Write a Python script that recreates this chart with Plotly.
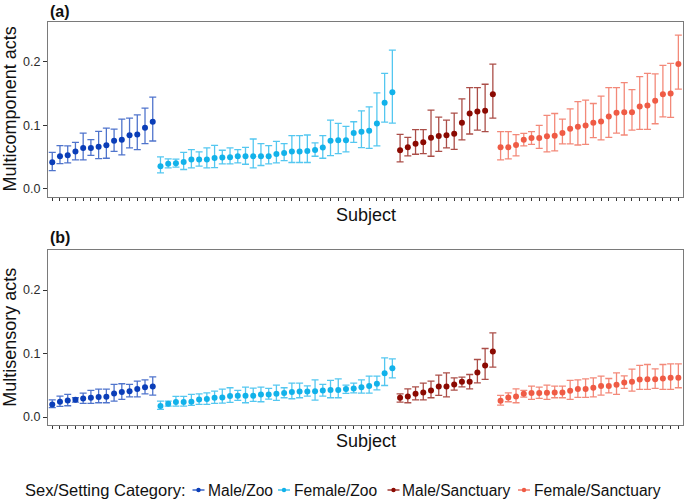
import plotly.graph_objects as go

categories = ["Male/Zoo", "Female/Zoo", "Male/Sanctuary", "Female/Sanctuary"]
colors = ["#0B3EB8", "#12B2EA", "#8B0A02", "#EF5B45"]
bar_colors = ["rgba(11,62,184,0.72)", "rgba(18,178,234,0.72)", "rgba(139,10,2,0.72)", "rgba(239,91,69,0.72)"]

# ---- Panel (a): Multicomponent acts (estimate, lower, upper) ----
a_mz = [0.0418, 0.0512, 0.0527, 0.0585, 0.0642, 0.0642, 0.0663, 0.0684, 0.0757, 0.0773, 0.0841, 0.0856, 0.0961, 0.1055]
a_mz_lo = [0.0287, 0.0397, 0.0407, 0.0454, 0.0454, 0.0527, 0.0475, 0.0480, 0.0590, 0.0533, 0.0642, 0.0616, 0.0710, 0.0752]
a_mz_hi = [0.0574, 0.0679, 0.0674, 0.0731, 0.0877, 0.0773, 0.0903, 0.0956, 0.0940, 0.1097, 0.1112, 0.1164, 0.1269, 0.1441]

a_fz = [0.0355, 0.0392, 0.0402, 0.0423, 0.0460, 0.0460, 0.0460, 0.0486, 0.0491, 0.0496, 0.0512, 0.0512, 0.0512, 0.0512,
        0.0512, 0.0548, 0.0564, 0.0585, 0.0585, 0.0595, 0.0611, 0.0648, 0.0757, 0.0762, 0.0762, 0.0877, 0.0898, 0.0914,
        0.1029, 0.1352, 0.1520]
a_fz_lo = [0.0251, 0.0329, 0.0339, 0.0303, 0.0329, 0.0355, 0.0329, 0.0334, 0.0392, 0.0392, 0.0407, 0.0386, 0.0329, 0.0366,
           0.0392, 0.0407, 0.0444, 0.0413, 0.0413, 0.0413, 0.0512, 0.0480, 0.0522, 0.0554, 0.0580, 0.0731, 0.0648, 0.0637,
           0.0674, 0.1050, 0.1034]
a_fz_hi = [0.0501, 0.0470, 0.0465, 0.0574, 0.0616, 0.0580, 0.0642, 0.0684, 0.0606, 0.0642, 0.0616, 0.0653, 0.0783, 0.0710,
           0.0679, 0.0747, 0.0710, 0.0836, 0.0836, 0.0846, 0.0721, 0.0836, 0.1081, 0.1029, 0.0982, 0.1055, 0.1227, 0.1290,
           0.1509, 0.1817, 0.2183]

a_ms = [0.0606, 0.0653, 0.0710, 0.0731, 0.0804, 0.0830, 0.0841, 0.0867, 0.1039, 0.1185, 0.1217, 0.1227, 0.1488]
a_ms_lo = [0.0423, 0.0517, 0.0543, 0.0554, 0.0512, 0.0590, 0.0642, 0.0621, 0.0768, 0.0862, 0.0924, 0.0898, 0.1112]
a_ms_hi = [0.0856, 0.0809, 0.0930, 0.0930, 0.1238, 0.1128, 0.1081, 0.1191, 0.1415, 0.1593, 0.1593, 0.1645, 0.1963]

a_fs = [0.0653, 0.0653, 0.0689, 0.0773, 0.0799, 0.0799, 0.0825, 0.0836, 0.0877, 0.0945, 0.0977, 0.0997, 0.1039, 0.1060,
        0.1138, 0.1196, 0.1206, 0.1206, 0.1295, 0.1311, 0.1384, 0.1488, 0.1499, 0.1963]
a_fs_lo = [0.0454, 0.0470, 0.0517, 0.0674, 0.0700, 0.0637, 0.0580, 0.0595, 0.0705, 0.0705, 0.0689, 0.0700, 0.0804, 0.0768,
           0.0809, 0.0877, 0.0846, 0.0924, 0.0935, 0.0935, 0.1023, 0.1133, 0.1123, 0.1567]
a_fs_hi = [0.0898, 0.0898, 0.0851, 0.0872, 0.0898, 0.0997, 0.1154, 0.1185, 0.1097, 0.1258, 0.1373, 0.1394, 0.1342, 0.1457,
           0.1593, 0.1593, 0.1671, 0.1561, 0.1765, 0.1817, 0.1807, 0.1943, 0.1974, 0.2418]

# ---- Panel (b): Multisensory acts ----
b_mz = [0.0199, 0.0241, 0.0262, 0.0272, 0.0293, 0.0304, 0.0314, 0.0319, 0.0372, 0.0393, 0.0408, 0.0440, 0.0471, 0.0482]
b_mz_lo = [0.0147, 0.0168, 0.0178, 0.0236, 0.0215, 0.0215, 0.0225, 0.0225, 0.0251, 0.0277, 0.0319, 0.0319, 0.0366, 0.0346]
b_mz_hi = [0.0272, 0.0330, 0.0356, 0.0304, 0.0377, 0.0419, 0.0440, 0.0440, 0.0513, 0.0524, 0.0513, 0.0565, 0.0586, 0.0634]

b_fz = [0.0173, 0.0209, 0.0236, 0.0236, 0.0241, 0.0277, 0.0283, 0.0304, 0.0309, 0.0330, 0.0335, 0.0335, 0.0335, 0.0356,
        0.0356, 0.0366, 0.0377, 0.0393, 0.0403, 0.0403, 0.0408, 0.0419, 0.0424, 0.0424, 0.0440, 0.0450, 0.0471, 0.0487,
        0.0524, 0.0691, 0.0770]
b_fz_lo = [0.0120, 0.0173, 0.0173, 0.0173, 0.0183, 0.0199, 0.0199, 0.0215, 0.0220, 0.0230, 0.0262, 0.0225, 0.0246, 0.0241,
           0.0283, 0.0262, 0.0304, 0.0288, 0.0304, 0.0330, 0.0267, 0.0330, 0.0304, 0.0304, 0.0372, 0.0382, 0.0377, 0.0377,
           0.0429, 0.0497, 0.0618]
b_fz_hi = [0.0251, 0.0251, 0.0325, 0.0325, 0.0356, 0.0366, 0.0382, 0.0408, 0.0440, 0.0461, 0.0419, 0.0471, 0.0455, 0.0471,
           0.0450, 0.0503, 0.0461, 0.0534, 0.0534, 0.0492, 0.0586, 0.0513, 0.0576, 0.0602, 0.0503, 0.0534, 0.0586, 0.0644,
           0.0644, 0.0932, 0.0916]

b_ms = [0.0304, 0.0325, 0.0366, 0.0387, 0.0419, 0.0482, 0.0482, 0.0513, 0.0555, 0.0555, 0.0702, 0.0812, 0.1031]
b_ms_lo = [0.0236, 0.0225, 0.0272, 0.0272, 0.0304, 0.0340, 0.0319, 0.0424, 0.0476, 0.0445, 0.0539, 0.0592, 0.0785]
b_ms_hi = [0.0366, 0.0445, 0.0476, 0.0534, 0.0565, 0.0660, 0.0696, 0.0618, 0.0628, 0.0670, 0.0906, 0.1079, 0.1325]

b_fs = [0.0257, 0.0309, 0.0325, 0.0366, 0.0377, 0.0377, 0.0382, 0.0387, 0.0387, 0.0414, 0.0440, 0.0440, 0.0461, 0.0487,
        0.0487, 0.0508, 0.0545, 0.0555, 0.0592, 0.0597, 0.0597, 0.0607, 0.0618, 0.0618]
b_fs_lo = [0.0188, 0.0241, 0.0225, 0.0314, 0.0277, 0.0293, 0.0277, 0.0304, 0.0304, 0.0277, 0.0309, 0.0309, 0.0319, 0.0346,
           0.0382, 0.0356, 0.0450, 0.0408, 0.0435, 0.0435, 0.0450, 0.0435, 0.0435, 0.0461]
b_fs_hi = [0.0340, 0.0382, 0.0445, 0.0419, 0.0487, 0.0471, 0.0503, 0.0487, 0.0487, 0.0576, 0.0586, 0.0602, 0.0618, 0.0644,
           0.0607, 0.0696, 0.0649, 0.0754, 0.0812, 0.0827, 0.0759, 0.0827, 0.0838, 0.0838]

y_ticks = [0.0, 0.1, 0.2]
y_tick_text = ["0.0", "0.1", "0.2"]
legend_title = "Sex/Setting Category:"

panel_a = [(a_mz, a_mz_lo, a_mz_hi), (a_fz, a_fz_lo, a_fz_hi), (a_ms, a_ms_lo, a_ms_hi), (a_fs, a_fs_lo, a_fs_hi)]
panel_b = [(b_mz, b_mz_lo, b_mz_hi), (b_fz, b_fz_lo, b_fz_hi), (b_ms, b_ms_lo, b_ms_hi), (b_fs, b_fs_lo, b_fs_hi)]

W, H = 685, 500
ML, MR, MT, MB = 48, 2, 22, 75
PW, PH = W - ML - MR, H - MT - MB


def px(x):
    return (x - ML) / PW


def py(y):
    return (H - MB - y) / PH


fig = go.Figure()


def add_panel(panel, xa, ya):
    start = 1
    for i, (est, lo, hi) in enumerate(panel):
        xs = list(range(start, start + len(est)))
        start += len(est)
        fig.add_trace(go.Scatter(
            x=xs, y=est, mode="markers", xaxis=xa, yaxis=ya, showlegend=False,
            name=categories[i],
            marker=dict(color=colors[i], size=6),
            error_y=dict(type="data", symmetric=False,
                         array=[h - e for h, e in zip(hi, est)],
                         arrayminus=[e - l for e, l in zip(est, lo)],
                         color=bar_colors[i], thickness=1.3, width=3.5),
        ))
    return start - 1


n = add_panel(panel_a, "x", "y")
add_panel(panel_b, "x2", "y2")

axis_common = dict(showgrid=False, zeroline=False, showline=True, mirror=True,
                   linecolor="#7a7a7a", linewidth=1.3)
xcommon = dict(axis_common, range=[0.45, n + 0.6], tickvals=list(range(1, n + 1)),
               showticklabels=False, ticks="outside", ticklen=3, tickwidth=0.8, tickcolor="#333")
ycommon = dict(axis_common, range=[-0.0125, 0.2625], tickvals=y_ticks, ticktext=y_tick_text,
               ticks="outside", ticklen=4, tickwidth=0.9, tickcolor="#333",
               tickfont=dict(size=12.5, color="#2b2b2b", family="Liberation Sans, Arial"))

annotations = [
    dict(text="<b>(a)</b>", x=px(48), y=py(11), xanchor="left", yanchor="middle", font=dict(size=16)),
    dict(text="<b>(b)</b>", x=px(48), y=py(237.5), xanchor="left", yanchor="middle", font=dict(size=16)),
    dict(text="Multicomponent acts", x=px(10), y=py(109.4), textangle=-90,
         xanchor="center", yanchor="middle", font=dict(size=18)),
    dict(text="Multisensory acts", x=px(10), y=py(337.7), textangle=-90,
         xanchor="center", yanchor="middle", font=dict(size=18)),
    dict(text="Subject", x=0.5, y=py(214.5), xanchor="center", yanchor="middle", font=dict(size=18)),
    dict(text="Subject", x=0.5, y=py(441), xanchor="center", yanchor="middle", font=dict(size=18)),
    dict(text=legend_title, x=px(22.5), y=py(490), xanchor="left", yanchor="middle", font=dict(size=16.5)),
]
shapes = []
# legend keys: (symbol start px, symbol end px, text start px)
legend_pos = [(192.5, 204.5, 205.5), (278, 290, 292), (387.5, 399.5, 399.5), (518, 530, 531.5)]
for i, (s0, s1, t0) in enumerate(legend_pos):
    annotations.append(dict(text=categories[i], x=px(t0), y=py(490), xanchor="left", yanchor="middle",
                            font=dict(size=15.6)))
    shapes.append(dict(type="line", xref="paper", yref="paper", x0=px(s0), x1=px(s1), y0=py(490), y1=py(490),
                       line=dict(color=colors[i], width=1.2)))
    xc, yc = px((s0 + s1) / 2), py(490)
    shapes.append(dict(type="circle", xref="paper", yref="paper", xsizemode="pixel", ysizemode="pixel",
                       xanchor=xc, yanchor=yc, x0=-2.2, x1=2.2, y0=-2.2, y1=2.2,
                       fillcolor=colors[i], line=dict(width=0)))
for a in annotations:
    a.update(xref="paper", yref="paper", showarrow=False)
    a.setdefault("font", {})
    a["font"].setdefault("color", "#111")

fig.update_layout(
    width=W, height=H,
    margin=dict(l=ML, r=MR, t=MT, b=MB),
    plot_bgcolor="white", paper_bgcolor="white",
    font=dict(family="Liberation Sans, Arial", color="#111"),
    showlegend=False,
    xaxis=dict(xcommon, domain=[0, 1], anchor="y"),
    yaxis=dict(ycommon, domain=[py(196.7), 1], anchor="x"),
    xaxis2=dict(xcommon, domain=[0, 1], anchor="y2"),
    yaxis2=dict(ycommon, domain=[0, py(250.3)], anchor="x2"),
    annotations=annotations,
    shapes=shapes,
)

fig.write_html("out.html", config={"displayModeBar": False},
               post_script="document.body.style.margin='0px';document.body.style.overflow='hidden';")
